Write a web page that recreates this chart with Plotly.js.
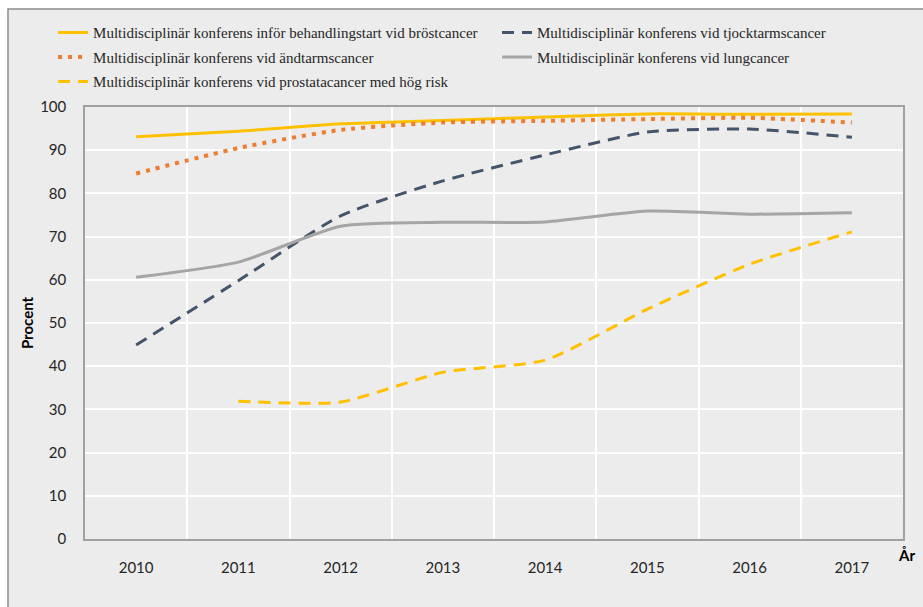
<!DOCTYPE html>
<html>
<head>
<meta charset="utf-8">
<script src="https://cdn.plot.ly/plotly-3.0.1.min.js"></script>
<style>html,body{margin:0;padding:0;background:#fff;}</style>
</head>
<body>
<div id="chart" style="width:923px;height:607px;"></div>
<script>
const years = ['2010','2011','2012','2013','2014','2015','2016','2017'];
const brost = [93.1, 94.4, 96.1, 96.9, 97.7, 98.4, 98.3, 98.4];
const tjocktarm = [44.9, 59.8, 74.8, 82.9, 88.9, 94.2, 94.9, 93.0];
const andtarm = [84.6, 90.5, 94.7, 96.4, 96.8, 97.2, 97.5, 96.4];
const lung = [60.6, 64.1, 72.4, 73.3, 73.4, 75.9, 75.2, 75.5];
const prostata = [null, 31.9, 31.7, 38.6, 41.4, 53.2, 63.6, 71.1];
const names = [
  'Multidisciplinär konferens inför behandlingstart vid bröstcancer',
  'Multidisciplinär konferens vid tjocktarmscancer',
  'Multidisciplinär konferens vid ändtarmscancer',
  'Multidisciplinär konferens vid lungcancer',
  'Multidisciplinär konferens vid prostatacancer med hög risk'
];
const yTicks = [0,10,20,30,40,50,60,70,80,90,100];

const bg = '#ececec';
function tr(y, name, color, dash, width, legend, group) {
  return {
    x: years, y: y, name: name, type: 'scatter', mode: 'lines',
    line: {color: color, width: width, dash: dash, shape: 'spline', smoothing: 0.6},
    connectgaps: false, legend: legend, legendgroup: group, hoverinfo: 'x+y+name'
  };
}
const data = [
  tr(brost, names[0], '#ffc000', 'solid', 3, 'legend', 'a'),
  tr(andtarm, names[2], '#ed7d31', '4px,6px', 4, 'legend', 'b'),
  tr(prostata, names[4], '#ffc000', '12px,8px', 3, 'legend', 'c'),
  tr(tjocktarm, names[1], '#44546a', '12px,8px', 3, 'legend2', 'd'),
  tr(lung, names[3], '#a5a5a5', 'solid', 3, 'legend2', 'e')
];

const legendFont = {family: '"Liberation Serif", "Times New Roman", serif', size: 15, color: '#262626'};
const layout = {
  width: 923, height: 607,
  paper_bgcolor: '#ffffff',
  plot_bgcolor: bg,
  margin: {l: 85, r: 20, t: 107, b: 68, pad: 0},
  showlegend: true,
  legend: {
    x: -0.039, xanchor: 'left', y: 1.21, yanchor: 'top',
    orientation: 'v', bgcolor: 'rgba(0,0,0,0)', font: legendFont,
    tracegroupgap: 2, traceorder: 'grouped', itemclick: false
  },
  legend2: {
    x: 0.5037, xanchor: 'left', y: 1.21, yanchor: 'top',
    orientation: 'v', bgcolor: 'rgba(0,0,0,0)', font: legendFont,
    tracegroupgap: 2, traceorder: 'grouped', itemclick: false
  },
  xaxis: {
    type: 'category', tickson: 'boundaries', range: [-0.5, 7.5],
    showgrid: true, gridcolor: '#ffffff', gridwidth: 1.5,
    showline: true, linecolor: '#a0a0a0', linewidth: 1.5, mirror: true,
    ticks: '', ticklabelstandoff: 14,
    tickfont: {family: 'Lato, "Open Sans", sans-serif', size: 15, color: '#262626'},
    zeroline: false, fixedrange: true
  },
  yaxis: {
    range: [0, 100], tickvals: yTicks, ticktext: yTicks.map(String),
    showgrid: true, gridcolor: '#ffffff', gridwidth: 1.5,
    showline: true, linecolor: '#a0a0a0', linewidth: 1.5, mirror: true,
    ticks: '', ticklabelstandoff: 14, zeroline: false,
    tickfont: {family: 'Lato, "Open Sans", sans-serif', size: 15, color: '#262626'},
    title: {text: '<b>Procent</b>', standoff: 3,
      font: {family: 'Lato, "Open Sans", sans-serif', size: 15, color: '#000000'}},
    fixedrange: true
  },
  shapes: [{
    type: 'rect', xref: 'paper', yref: 'paper', layer: 'below',
    x0: (8 - 85) / 818, x1: 1.2, y0: -0.2, y1: (539 - 9) / 432,
    fillcolor: bg, line: {color: '#8c8c8c', width: 1.5}
  }],
  annotations: [{
    text: '<b>År</b>', xref: 'paper', yref: 'paper',
    x: (907 - 85) / 818, y: (539 - 555) / 432, xanchor: 'center', yanchor: 'middle',
    showarrow: false,
    font: {family: 'Lato, "Open Sans", sans-serif', size: 15, color: '#000000'}
  }]
};
Plotly.newPlot('chart', data, layout, {displayModeBar: false, staticPlot: false});
</script>
</body>
</html>
